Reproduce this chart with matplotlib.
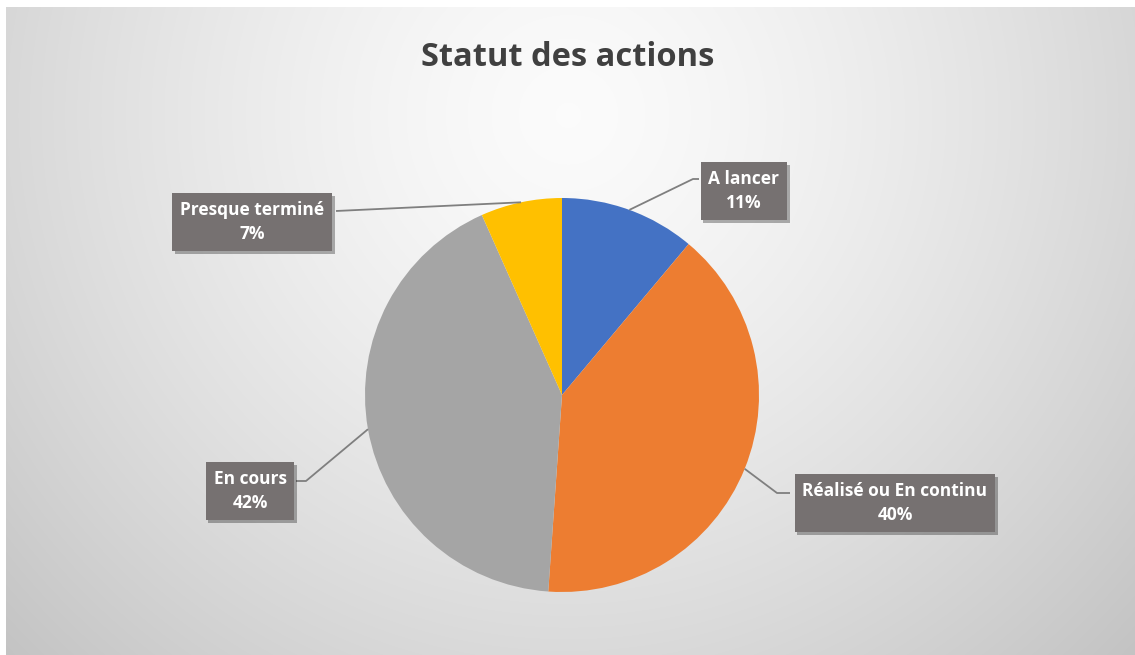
import numpy as np
import matplotlib.pyplot as plt
from matplotlib import patheffects as pe

# chart data (counts read back from the slice angles)
categories = ['A lancer', 'Réalisé ou En continu', 'En cours', 'Presque terminé']
counts = [5, 18, 19, 3]
colors = ['#4472C4', '#ED7D31', '#A5A5A5', '#FFC000']
pct_labels = ['11%', '40%', '42%', '7%']

W, H = 1135, 655
fig = plt.figure(figsize=(W / 100, H / 100), dpi=100)
ax = fig.add_axes([0, 0, 1, 1])

# radial grey background, light near the title
yy, xx = np.mgrid[0:H, 0:W]
r = np.hypot(xx - 565, yy - 545)
r = r / r.max()
shade = 0.985 - 0.22 * r ** 1.4
bg = np.dstack([shade, shade, shade])
ax.imshow(bg, extent=(6, W, 0, H - 7), origin='lower', zorder=0)

cx, cy, rad = 562, H - 395, 197
wedges, _ = ax.pie(counts, colors=colors, startangle=90, counterclock=False,
                   center=(cx, cy), radius=rad, frame=True,
                   wedgeprops=dict(linewidth=0))
ax.set_xlim(0, W)
ax.set_ylim(0, H)
ax.set_aspect('equal')
ax.axis('off')

fig.text(0.5, 1 - 57 / H, 'Statut des actions', ha='center', va='center',
         fontsize=23.5, fontweight='bold', color='#404040', family='Open Sans')

# label box centres and the elbow of each leader line (pixels from top-left)
box_pos = [(744, 191), (895, 503), (250, 491), (252, 222)]
elbow = [(693, 179), (777, 493), (306, 481), (336, 211)]
box_edge = [(699, 179), (790, 493), (296, 481), (336, 211)]

for w, lab, pct, bp, el, be in zip(wedges, categories, pct_labels, box_pos, elbow, box_edge):
    mid = np.deg2rad((w.theta1 + w.theta2) / 2)
    px, py = cx + rad * np.cos(mid), cy + rad * np.sin(mid)
    ax.plot([px, el[0], be[0]], [py, H - el[1], H - be[1]], color='#7f7f7f',
            lw=1.3, zorder=3, solid_capstyle='butt')
    t = ax.text(bp[0], H - bp[1], lab + '\n' + pct, ha='center', va='center',
                fontsize=12.5, fontweight='bold', color='white', family='Open Sans',
                linespacing=1.45, zorder=5,
                bbox=dict(boxstyle='square,pad=0.45', fc='#767171', ec='none'))
    t.get_bbox_patch().set_path_effects([
        pe.SimplePatchShadow(offset=(2, -2), shadow_rgbFace='black', alpha=0.3),
        pe.Normal()])

fig.savefig('out.png', dpi=100)
